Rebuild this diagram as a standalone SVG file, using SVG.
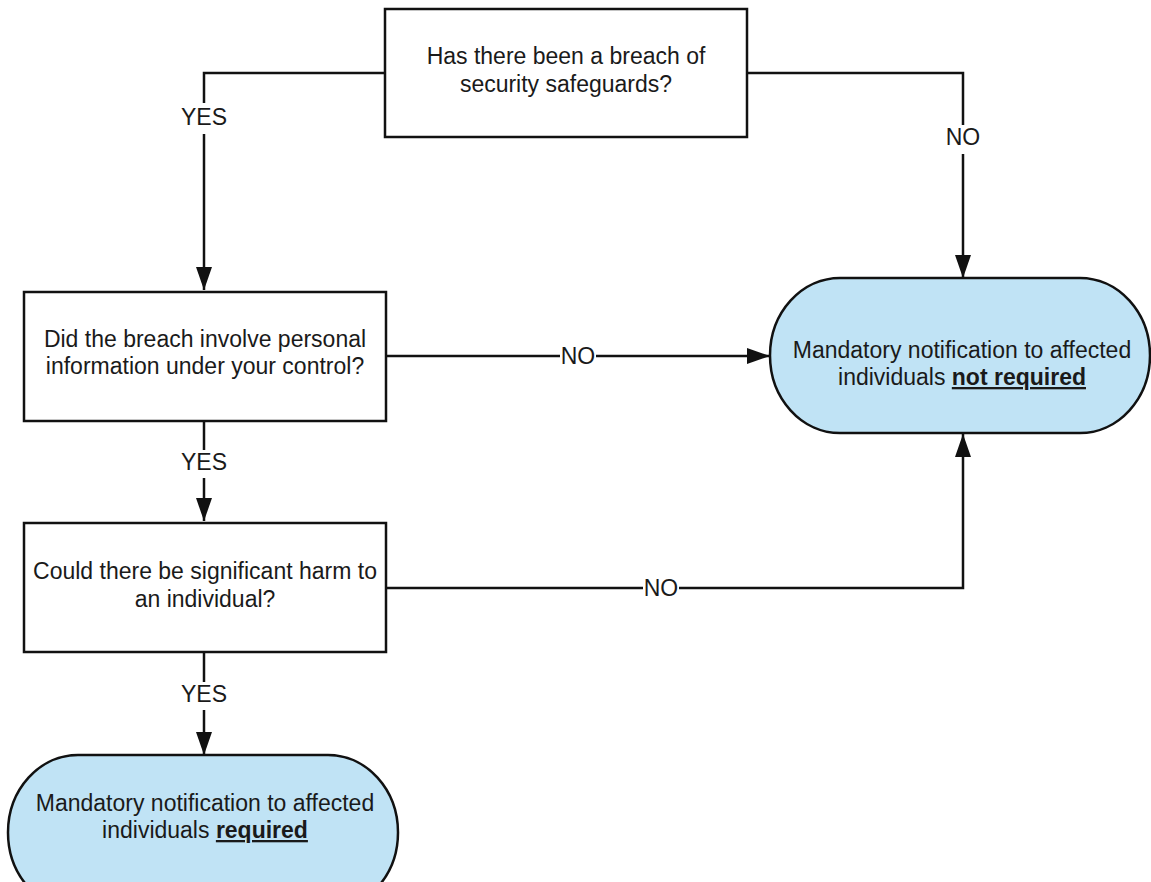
<svg xmlns="http://www.w3.org/2000/svg" width="1151" height="882" viewBox="0 0 1151 882">
<defs>
<marker id="arr" markerWidth="24" markerHeight="16" refX="23" refY="8" orient="auto" markerUnits="userSpaceOnUse">
<path d="M0,0 L23,8 L0,16 Z" fill="#111"/>
</marker>
<style>
.box{fill:#fff;stroke:#111;stroke-width:2.5}
.term{fill:#c0e3f5;stroke:#111;stroke-width:2.5}
.t{font-family:"Liberation Sans",Arial,sans-serif;font-size:23px;fill:#1a1a1a;text-anchor:middle}
.lbl{font-family:"Liberation Sans",Arial,sans-serif;font-size:23px;fill:#1a1a1a;text-anchor:middle}
.c{fill:none;stroke:#111;stroke-width:2.5}
.u{font-weight:bold;text-decoration:underline}
</style>
</defs>
<rect width="1151" height="882" fill="#fff"/>
<g id="connectors">
<path class="c" d="M385,73 H204 V103"/>
<path class="c" d="M204,134 V290" marker-end="url(#arr)"/>
<path class="c" d="M747,73 H963 V125"/>
<path class="c" d="M963,154 V278" marker-end="url(#arr)"/>
<path class="c" d="M386,356 H560"/>
<path class="c" d="M596,356 H770" marker-end="url(#arr)"/>
<path class="c" d="M204,421 V450"/>
<path class="c" d="M204,478 V521" marker-end="url(#arr)"/>
<path class="c" d="M386,588 H643"/>
<path class="c" d="M679,588 H963 V434" marker-end="url(#arr)"/>
<path class="c" d="M204,652 V682"/>
<path class="c" d="M204,710 V755" marker-end="url(#arr)"/>
<text class="lbl" x="204" y="125">YES</text>
<text class="lbl" x="963" y="145">NO</text>
<text class="lbl" x="578" y="364">NO</text>
<text class="lbl" x="661" y="596">NO</text>
<text class="lbl" x="204" y="470">YES</text>
<text class="lbl" x="204" y="702">YES</text>
</g>
<g id="q1">
<rect class="box" x="385" y="9" width="362" height="128"/>
<text class="t" x="566" y="64">Has there been a breach of</text>
<text class="t" x="566" y="92">security safeguards?</text>
</g>
<g id="q2">
<rect class="box" x="24" y="292" width="362" height="129"/>
<text class="t" x="205" y="347">Did the breach involve personal</text>
<text class="t" x="205" y="374">information under your control?</text>
</g>
<g id="q3">
<rect class="box" x="24" y="523" width="362" height="129"/>
<text class="t" x="205" y="579">Could there be significant harm to</text>
<text class="t" x="205" y="607">an individual?</text>
</g>
<g id="notRequired">
<rect class="term" x="770" y="278" width="380" height="155" rx="70" ry="77.5"/>
<text class="t" x="962" y="358">Mandatory notification to affected</text>
<text class="t" x="962" y="385">individuals <tspan class="u">not required</tspan></text>
</g>
<g id="required">
<rect class="term" x="8" y="755" width="390" height="155" rx="70" ry="77.5"/>
<text class="t" x="205" y="811">Mandatory notification to affected</text>
<text class="t" x="205" y="838">individuals <tspan class="u">required</tspan></text>
</g>
</svg>
